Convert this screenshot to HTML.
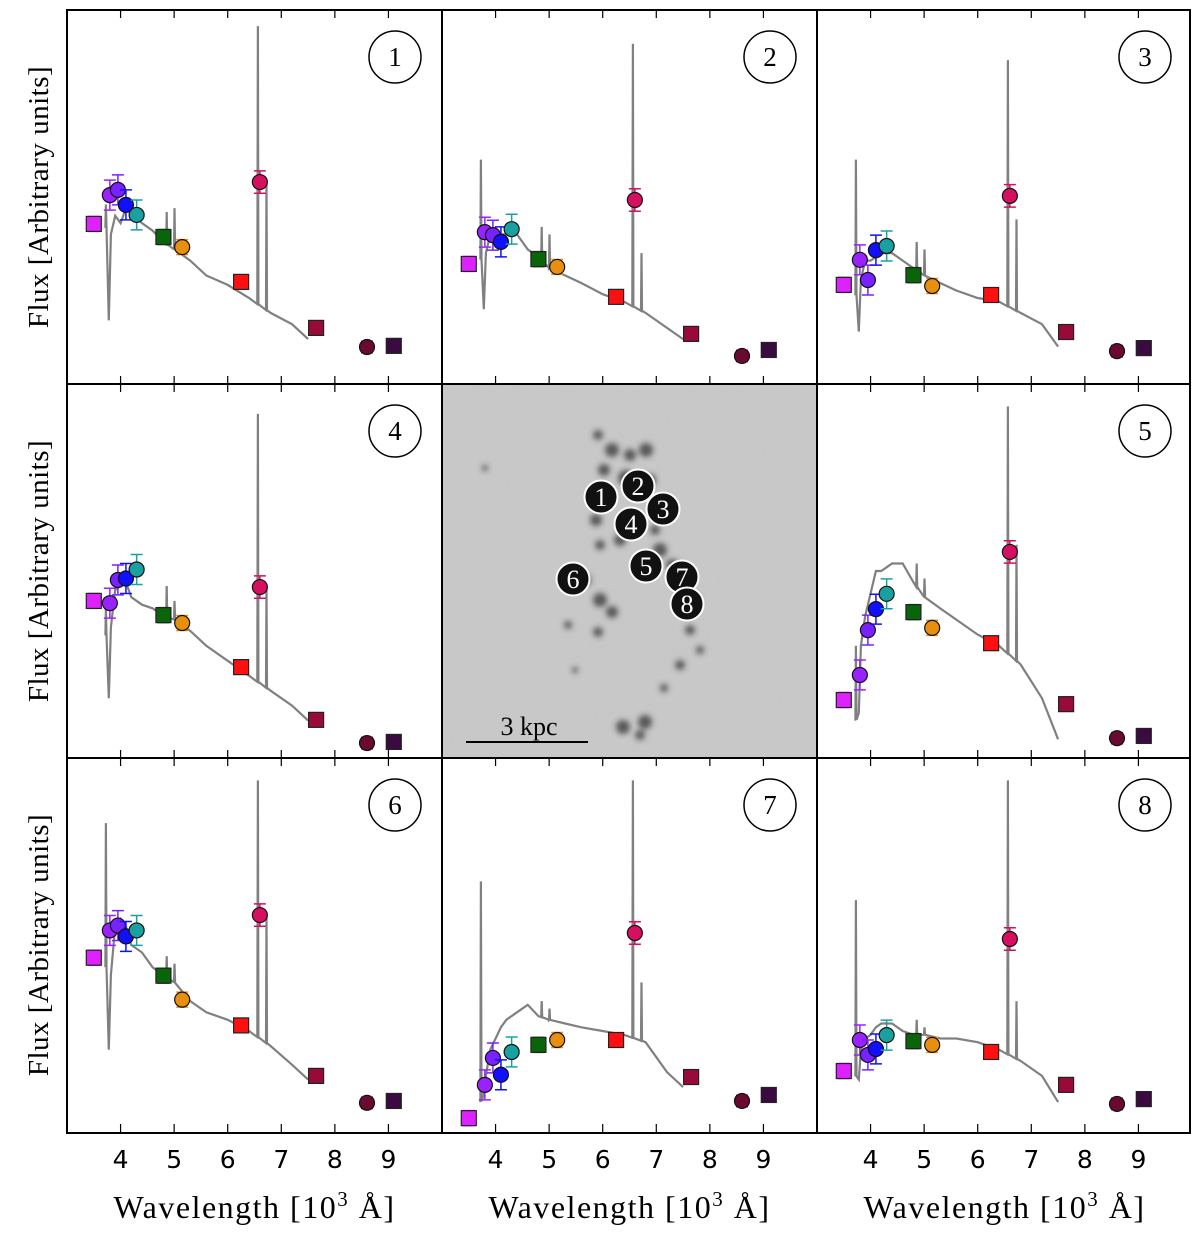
<!DOCTYPE html>
<html><head><meta charset="utf-8"><style>
body{margin:0;background:#fff}
svg text{font-family:"Liberation Serif","DejaVu Serif",serif}
</style></head><body>
<svg id="fig" width="1200" height="1234" viewBox="0 0 1200 1234" xmlns="http://www.w3.org/2000/svg">
<g id="mapg" clip-path="url(#imgclip)"></g>
<g id="plots"></g>
<g id="axes"></g>
</svg>
<script>
// ---- data ----
const filterWl = [3.5,3.8,3.95,4.1,4.3,4.8,5.15,6.25,6.6,7.65,8.6,9.1];
const filterShape = ['s','c','c','c','c','s','c','s','c','s','c','s'];
const filterColor = ['#dd22ff','#9922ff','#7722ff','#1010ff','#1aa0a0','#0a650a','#e88f10','#ff1010','#d60f60','#9a0a38','#6a0a30','#3a0a40'];
const panelIds = [1,2,3,4,5,6,7,8];
const flux1 = [42.8,50.5,51.9,47.9,45.2,39.3,36.6,27.3,54.0,15.0,9.9,10.2];
const flux2 = [32.1,40.6,39.8,38.0,41.4,33.4,31.3,23.3,49.2,13.4,7.5,9.1];
const flux3 = [26.5,33.2,27.8,35.8,36.9,29.1,26.2,23.8,50.3,13.9,8.8,9.6];
const flux4 = [42.0,41.4,47.6,48.0,50.4,38.2,36.1,24.3,45.7,10.2,4.0,4.3];
const flux5 = [15.5,22.2,34.2,39.8,43.9,39.0,34.8,30.7,55.1,14.4,5.3,5.9];
const flux6 = [46.6,53.9,55.2,52.3,53.9,41.8,35.4,28.5,58.0,15.0,7.8,8.3];
const flux7 = [3.7,12.6,19.8,15.3,21.4,23.3,24.6,24.6,53.2,14.7,8.3,9.9];
const flux8 = [16.3,24.6,20.6,22.2,25.9,24.3,23.3,21.4,51.6,12.6,7.5,8.8];
const errs = [2,4,4,4,4,2,2,1.5,3,1.5,1.5,1];
const contWl = [3.72,3.78,3.82,3.9,4.0,4.1,4.2,4.4,4.6,4.8,5.0,5.3,5.6,6.0,6.4,6.8,7.2,7.5];
const cont1 = [45,17,40,45,43,47,46,43,41,38,36,33,29,26.5,23,19,16,12];
const cont2 = [35,20,35,40,38,40,40,40,36,34,31,29,27,24,22,19,15,12];
const cont3 = [25,14,28,33,33,34,35,35,33,31,29,27,25,23,22,19,16,10];
const cont4 = [35,16,35,45,46,47,43,41,40,38,37,34,30,26,22,18,14,10];
const cont5 = [10,12,30,38,44,50,50,52,52,47,43,40,37,33,30,25,16,5];
const cont6 = [47,22,42,55,57,55,50,48,44,42,40,35,32,30,27,23,18,14];
const cont7 = [8,10,15,22,25,28,30,32,34,31,30,29,28,27,26,24,16,12];
const cont8 = [15,14,22,25,26,28,29,29,27,26,26,25,25,24,22,19,15,8];
const lineWl = [3.727,4.861,5.007,6.563,6.724];
const lines1 = [48,46,47,95.7,54];
const lines2 = [60,42,40,91,35];
const lines3 = [60,38,36,86.6,44];
const lines4 = [40,46,42,92,46];
const lines5 = [30,52,48,94,57];
const lines6 = [82.6,47,45,94,58];
const lines7 = [67,35,33,94,40];
const lines8 = [62,30,28,94,35];
const xTicks = [4,5,6,7,8,9];

const fluxes=[flux1,flux2,flux3,flux4,flux5,flux6,flux7,flux8];
const conts=[cont1,cont2,cont3,cont4,cont5,cont6,cont7,cont8];
const lineSets=[lines1,lines2,lines3,lines4,lines5,lines6,lines7,lines8];
const cells=[[0,0],[1,0],[2,0],[0,1],[2,1],[0,2],[1,2],[2,2]];
const colX=[67,442,817], rowY=[10,384,758], PW=375, PH=374;
const NS='http://www.w3.org/2000/svg';
function mk(t,a,p){const e=document.createElementNS(NS,t);for(const k in a)e.setAttribute(k,a[k]);p.appendChild(e);return e;}
const plots=document.getElementById('plots');
function xs(x0,w){return x0+(w-3.0)*(PW/7.0);}
function ys(y0,f){return y0+PH-f*PH/100;}

cells.forEach((c,i)=>{
  const x0=colX[c[0]], y0=rowY[c[1]];
  const g=mk('g',{},plots);
  
  
  const pts=[];
  const cw=contWl, cv=conts[i], lw=lineWl, lv=lineSets[i];
  let li=0;
  for(let k=0;k<cw.length;k++){
    while(li<lw.length && lw[li]<cw[k]){
      const base = k>0 ? cv[k-1]+(cv[k]-cv[k-1])*(lw[li]-cw[k-1])/(cw[k]-cw[k-1]) : cv[0];
      pts.push([lw[li]-0.01,base],[lw[li],lv[li]],[lw[li]+0.01,base]);
      li++;
    }
    pts.push([cw[k],cv[k]]);
  }
  const d=pts.map((p,j)=>(j?'L':'M')+xs(x0,p[0]).toFixed(1)+' '+ys(y0,p[1]).toFixed(1)).join(' ');
  const sp=mk('path',{d:d,fill:'none',stroke:'#808080','stroke-width':2.2},g);
  
  
  fluxes[i].forEach((f,k)=>{
    const cx=xs(x0,filterWl[k]), cy=ys(y0,f), col=filterColor[k];
    const eh=errs[k]*PH/100;
    const eb=mk('path',{d:`M${cx} ${cy-eh}V${cy+eh}M${cx-6} ${cy-eh}H${cx+6}M${cx-6} ${cy+eh}H${cx+6}`,stroke:col,'stroke-width':1.5,fill:'none'},g);
    
    
    let m;
    if(filterShape[k]==='s') m=mk('rect',{x:cx-7.5,y:cy-7.5,width:15,height:15,fill:col,stroke:'#222','stroke-width':1.2},g);
    else m=mk('circle',{cx:cx,cy:cy,r:7.5,fill:col,stroke:'#111','stroke-width':1.2},g);
    
    
  });
  const lb=mk('circle',{cx:x0+PW-47,cy:y0+47,r:26,fill:'#fff',stroke:'#000','stroke-width':1.5},g);
  
  
  const lt=mk('text',{x:x0+PW-47,y:y0+56,'text-anchor':'middle','font-size':27},g);
  lt.textContent=panelIds[i];
  
  
  xTicks.forEach(t=>{
    const tx=xs(x0,t);
    mk('path',{d:`M${tx} ${y0+PH}v-8M${tx} ${y0}v8`,stroke:'#000','stroke-width':1.2},g);
  });
});

// galaxy image
const mg=document.getElementById('mapg');
const svgEl=document.getElementById('fig');
const defs=mk('defs',{},svgEl);
defs.innerHTML=`<clipPath id="imgclip"><rect x="442" y="384" width="375" height="374"/></clipPath>
<filter id="bl" x="-50%" y="-50%" width="200%" height="200%"><feGaussianBlur stdDeviation="3"/></filter>
<filter id="nz" filterUnits="userSpaceOnUse" x="442" y="384" width="375" height="374"><feTurbulence type="fractalNoise" baseFrequency="0.18" numOctaves="2" seed="4"/><feColorMatrix values="0 0 0 0 0.5 0 0 0 0 0.5 0 0 0 0 0.5 0 0 0 0.35 0"/></filter>`;
mk('rect',{x:442,y:384,width:375,height:374,fill:'#c9c9c9'},mg);
mk('rect',{x:442,y:384,width:375,height:374,filter:'url(#nz)',opacity:0.5},mg);
const blobs=[[598,435,5],[612,450,7],[630,455,6],[646,450,7],[604,470,6],[626,478,8],[650,480,6],[596,520,6],[620,540,6],[600,545,5],[655,530,5],[660,550,7],[672,565,6],[585,580,6],[600,600,7],[612,612,6],[598,632,5],[695,600,5],[690,630,5],[680,665,5],[664,688,4],[700,650,4],[623,727,7],[645,722,7],[640,735,5],[575,670,3],[485,468,3],[568,625,4]];
const bg=mk('g',{filter:'url(#bl)',fill:'#333'},mg);
blobs.forEach(b=>mk('circle',{cx:b[0],cy:b[1],r:b[2],opacity:0.75},bg));
const regions=[[1,601,497],[2,638,486],[3,663,509],[4,631,524],[5,646,566],[6,573,579],[7,682,577],[8,687,604]];
regions.forEach(r=>{
  const c=mk('circle',{cx:r[1],cy:r[2],r:16.5,fill:'#111',stroke:'#fff','stroke-width':2},mg);
  
  
  const t=mk('text',{x:r[1],y:r[2]+9,'text-anchor':'middle','font-size':26,fill:'#fff'},mg);
  t.textContent=r[0];
});
mk('path',{d:'M466 742H588',stroke:'#000','stroke-width':2},mg);
const sb=mk('text',{x:529,y:735,'text-anchor':'middle','font-size':26},mg);
sb.textContent='3 kpc';



const ax=document.getElementById('axes');
mk('rect',{x:67,y:10,width:1123,height:1123,fill:'none',stroke:'#000','stroke-width':2},ax);
[442,817].forEach(x=>mk('path',{d:`M${x} 10V1133`,stroke:'#000','stroke-width':2},ax));
[384,758].forEach(y=>mk('path',{d:`M67 ${y}H1190`,stroke:'#000','stroke-width':2},ax));
[0,1,2].forEach(c=>{
  xTicks.forEach(t=>{
    const tl=mk('text',{x:xs(colX[c],t),y:1168,'text-anchor':'middle','font-size':25,style:'font-family:"DejaVu Sans",sans-serif'},ax);
    tl.textContent=t;
    
    
  });
  const xl=mk('text',{x:colX[c]+PW/2,y:1218,'text-anchor':'middle','font-size':32,'letter-spacing':'1.5'},ax);
  xl.innerHTML='Wavelength [10<tspan dy="-12" font-size="21">3</tspan><tspan dy="12"> Å]</tspan>';
  
  
});
[0,1,2].forEach(r=>{
  const cy=rowY[r]+PH/2;
  const yl=mk('text',{x:0,y:0,'text-anchor':'middle','font-size':29,'letter-spacing':'0.5',transform:`translate(48,${cy}) rotate(-90)`},ax);
  yl.textContent='Flux [Arbitrary units]';
  
  
});
</script>
</body></html>
